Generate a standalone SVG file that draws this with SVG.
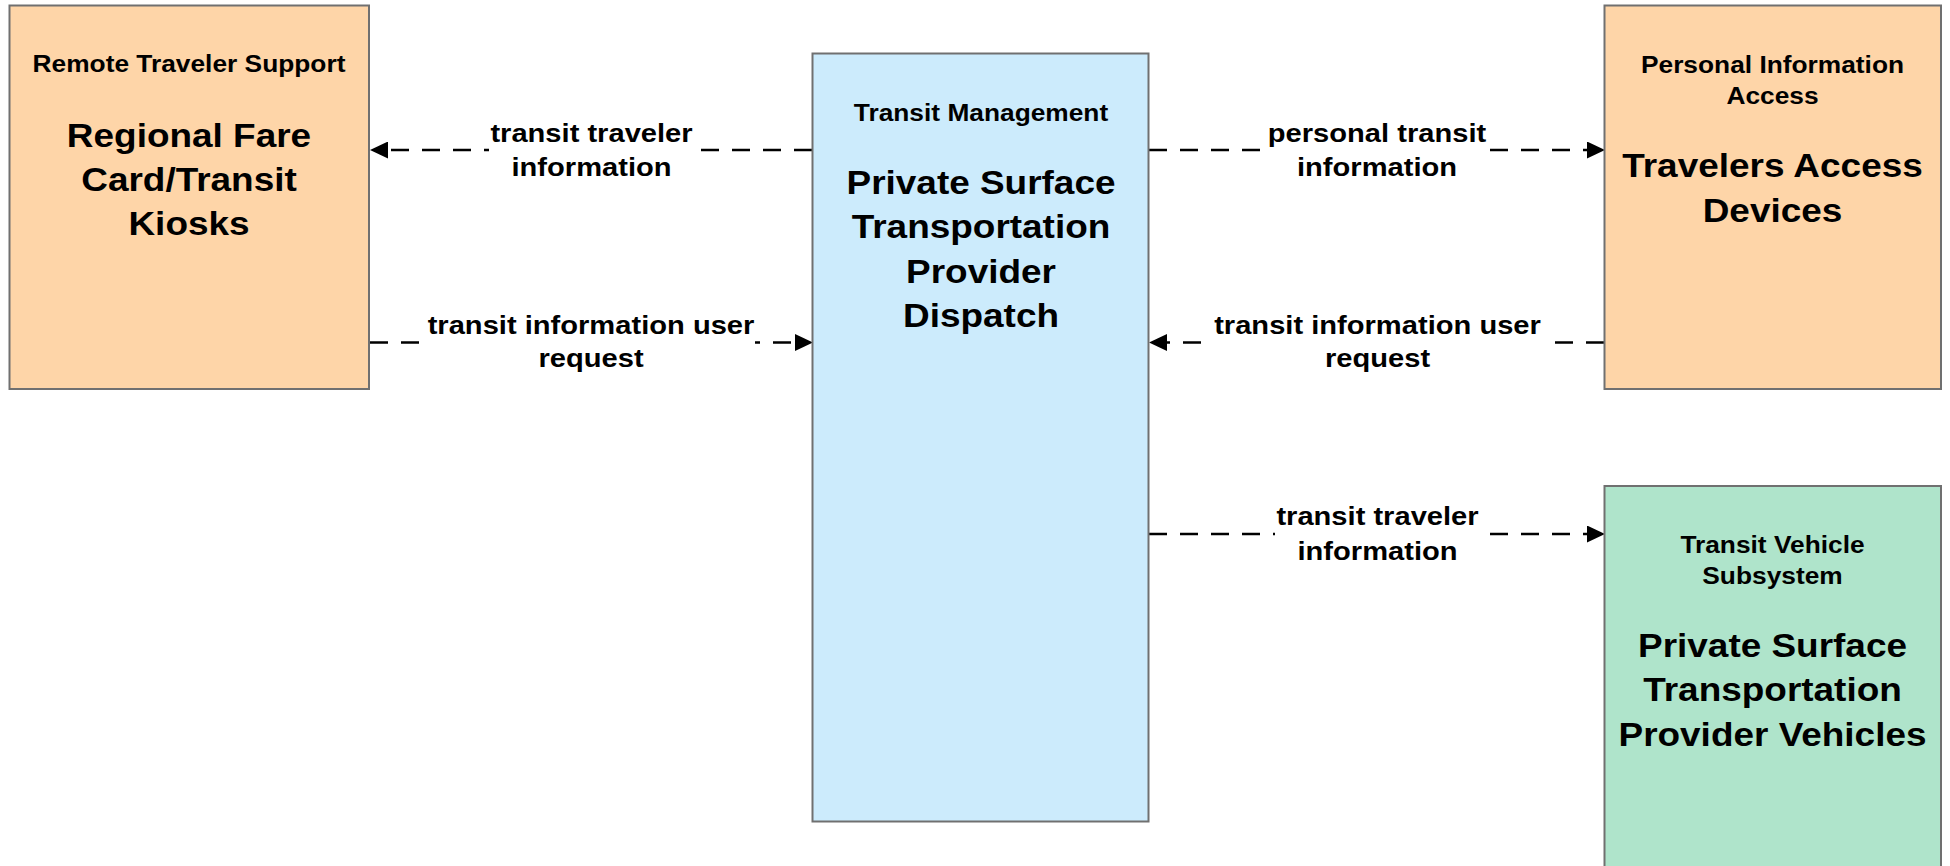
<svg xmlns="http://www.w3.org/2000/svg" width="1950" height="866" viewBox="0 0 1950 866">
<style>
  .node { stroke: #707070; stroke-width: 2; }
  .rts { fill: #FED5A8; }
  .tm { fill: #CCEBFC; }
  .tv { fill: #AFE4CB; }
  text { font-family: "Liberation Sans", Arial, sans-serif; font-weight: bold; fill: #000; text-anchor: middle; }
  .hdr { font-size: 23.5px; }
  .ttl { font-size: 33px; }
  .lbl { font-size: 26px; }
  .flow { fill: none; stroke: #000; stroke-width: 2.5; stroke-dasharray: 18 13; }
  .lblbg { fill: #fff; }
</style>
<defs>
  <marker id="arrow" viewBox="0 0 18 17" refX="0" refY="8.5" markerWidth="18" markerHeight="17" markerUnits="userSpaceOnUse" orient="auto">
    <path d="M0,0 L18,8.5 L0,17 Z" fill="#000"/>
  </marker>
</defs>
<rect width="1950" height="866" fill="#fff"/>

<g id="connectors">
  <path class="flow" d="M812,150 L388,150" marker-end="url(#arrow)"/>
  <path class="flow" d="M370,342.5 L795,342.5" marker-end="url(#arrow)"/>
  <path class="flow" d="M1149,150 L1587,150" marker-end="url(#arrow)"/>
  <path class="flow" d="M1604,342.5 L1167,342.5" marker-end="url(#arrow)"/>
  <path class="flow" d="M1149,534 L1587,534" marker-end="url(#arrow)"/>

  <g id="label-1">
    <rect class="lblbg" x="489" y="120" width="205" height="62"/>
    <text class="lbl" transform="translate(591.5,141.5) scale(1.12,1)">transit traveler</text>
    <text class="lbl" transform="translate(591.5,176) scale(1.12,1)">information</text>
  </g>
  <g id="label-2">
    <rect class="lblbg" x="427" y="312" width="328" height="62"/>
    <text class="lbl" transform="translate(591,334) scale(1.12,1)">transit information user</text>
    <text class="lbl" transform="translate(591,367) scale(1.12,1)">request</text>
  </g>
  <g id="label-3">
    <rect class="lblbg" x="1267" y="120" width="221" height="62"/>
    <text class="lbl" transform="translate(1377,141.5) scale(1.12,1)">personal transit</text>
    <text class="lbl" transform="translate(1377,176) scale(1.12,1)">information</text>
  </g>
  <g id="label-4">
    <rect class="lblbg" x="1214" y="312" width="328" height="62"/>
    <text class="lbl" transform="translate(1377.5,334) scale(1.12,1)">transit information user</text>
    <text class="lbl" transform="translate(1377.5,367) scale(1.12,1)">request</text>
  </g>
  <g id="label-5">
    <rect class="lblbg" x="1275" y="504" width="205" height="62"/>
    <text class="lbl" transform="translate(1377.5,525) scale(1.12,1)">transit traveler</text>
    <text class="lbl" transform="translate(1377.5,560) scale(1.12,1)">information</text>
  </g>
</g>

<g id="node-remote-traveler-support">
  <rect class="node rts" x="9.5" y="5.5" width="359.5" height="383.5"/>
  <text class="hdr" transform="translate(189,72) scale(1.12,1)">Remote Traveler Support</text>
  <text class="ttl" transform="translate(189,146.5) scale(1.12,1)">Regional Fare</text>
  <text class="ttl" transform="translate(189,190.5) scale(1.12,1)">Card/Transit</text>
  <text class="ttl" transform="translate(189,235) scale(1.12,1)">Kiosks</text>
</g>

<g id="node-transit-management">
  <rect class="node tm" x="812.5" y="53.5" width="336" height="768"/>
  <text class="hdr" transform="translate(981,121) scale(1.12,1)">Transit Management</text>
  <text class="ttl" transform="translate(981,194) scale(1.12,1)">Private Surface</text>
  <text class="ttl" transform="translate(981,238) scale(1.12,1)">Transportation</text>
  <text class="ttl" transform="translate(981,283) scale(1.12,1)">Provider</text>
  <text class="ttl" transform="translate(981,327) scale(1.12,1)">Dispatch</text>
</g>

<g id="node-personal-information-access">
  <rect class="node rts" x="1604.5" y="5.5" width="336.5" height="383.5"/>
  <text class="hdr" transform="translate(1772.5,72.5) scale(1.12,1)">Personal Information</text>
  <text class="hdr" transform="translate(1772.5,103.5) scale(1.12,1)">Access</text>
  <text class="ttl" transform="translate(1772.5,176.5) scale(1.12,1)">Travelers Access</text>
  <text class="ttl" transform="translate(1772.5,221.5) scale(1.12,1)">Devices</text>
</g>

<g id="node-transit-vehicle-subsystem">
  <rect class="node tv" x="1604.5" y="486" width="336.5" height="400"/>
  <text class="hdr" transform="translate(1772.5,553) scale(1.12,1)">Transit Vehicle</text>
  <text class="hdr" transform="translate(1772.5,584) scale(1.12,1)">Subsystem</text>
  <text class="ttl" transform="translate(1772.5,656.5) scale(1.12,1)">Private Surface</text>
  <text class="ttl" transform="translate(1772.5,701) scale(1.12,1)">Transportation</text>
  <text class="ttl" transform="translate(1772.5,745.5) scale(1.12,1)">Provider Vehicles</text>
</g>
</svg>
